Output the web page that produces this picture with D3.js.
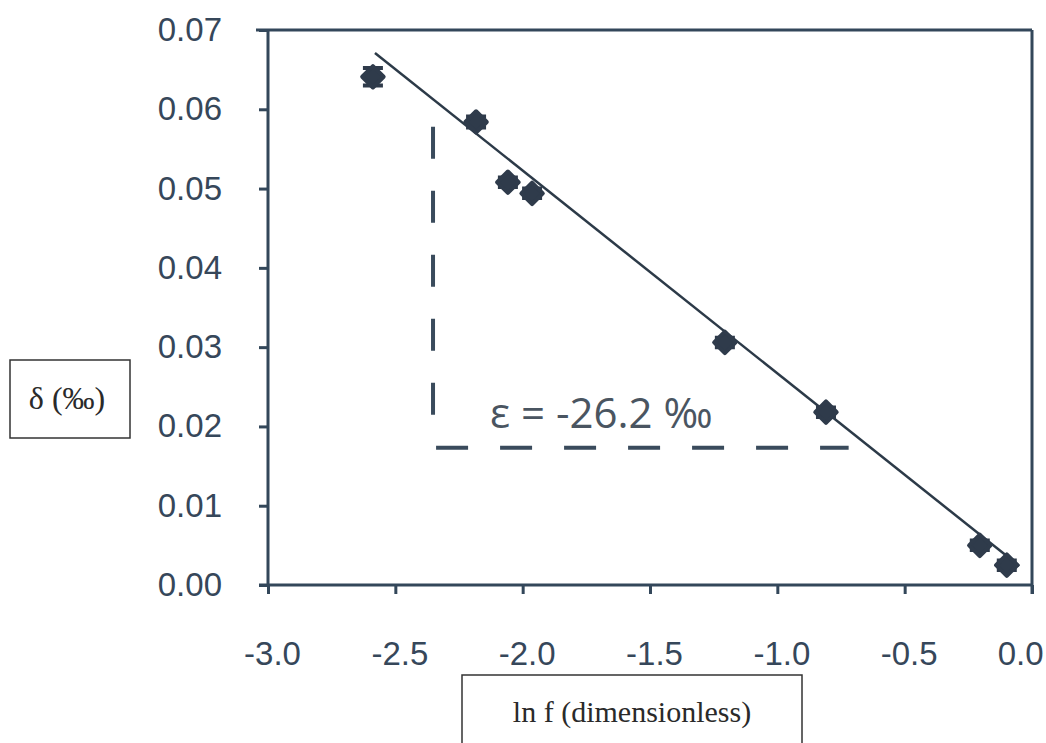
<!DOCTYPE html>
<html>
<head>
<meta charset="utf-8">
<script src="https://cdn.jsdelivr.net/npm/d3@7"></script>
<style>
  html, body { margin: 0; padding: 0; background: #fff; }
  svg { display: block; }
</style>
</head>
<body>
<svg id="chart" width="1046" height="743"></svg>
<script>
// ---- data ----
const lnF = [-2.588, -2.183, -2.058, -1.963, -1.206, -0.809, -0.205, -0.099];
const delta = [0.0641, 0.0584, 0.0508, 0.0494, 0.0306, 0.0218, 0.0050, 0.0025];
const deltaErr = [0.0011, 0.0007, 0.0006, 0.0006, 0.0006, 0.0006, 0.0006, 0.0006];
const fitLineX = [-2.58, -0.05];
const fitLineY = [0.0671, 0.0024];
const slopeVertX = [-2.352, -2.352];
const slopeVertY = [0.0578, 0.0211];
const slopeHorizX = [-2.34, -0.72];
const slopeHorizY = [0.0173, 0.0173];
const xTicks = [-3.0, -2.5, -2.0, -1.5, -1.0, -0.5, 0.0];
const yTicks = [0.00, 0.01, 0.02, 0.03, 0.04, 0.05, 0.06, 0.07];
const annotation = "ε = -26.2 ‰";
const yLabel = "δ (‰)";
const xLabel = "ln f (dimensionless)";

// ---- layout ----
const svg = d3.select("#chart");
const x = d3.scaleLinear().domain([-3, 0]).range([268, 1032]);
const y = d3.scaleLinear().domain([0, 0.07]).range([585, 30]);
const axisColor = "#33475a";
const textColor = "#36475a";
const markColor = "#2f3b4b";
const fmtX = d => d3.format(".1f")(d).replace("−", "-");

// frame: top & right
svg.append("line").attr("x1", 256).attr("x2", x(0)).attr("y1", y(0.07)).attr("y2", y(0.07))
  .attr("stroke", axisColor).attr("stroke-width", 3);
svg.append("line").attr("x1", x(0)).attr("x2", x(0)).attr("y1", y(0.07)).attr("y2", y(0) + 9)
  .attr("stroke", axisColor).attr("stroke-width", 3);

// y axis
const yAxis = d3.axisLeft(y).tickValues(yTicks).tickFormat(d3.format(".2f")).tickSize(9).tickPadding(37);
const gy = svg.append("g").attr("transform", `translate(${x(-3)},0)`).call(yAxis);
gy.select(".domain").attr("stroke", axisColor).attr("stroke-width", 3).attr("d", `M-9,${y(0)}H0V${y(0.07)}`);
gy.selectAll(".tick line").attr("stroke", axisColor).attr("stroke-width", 3);
gy.selectAll(".tick text").attr("fill", textColor).style("font-family", "Liberation Sans, Arial, sans-serif")
  .style("font-size", "33px");

// x axis
const xAxis = d3.axisBottom(x).tickValues(xTicks).tickFormat(fmtX).tickSize(9).tickPadding(48);
const gx = svg.append("g").attr("transform", `translate(0,${y(0)})`).call(xAxis);
gx.select(".domain").attr("stroke", axisColor).attr("stroke-width", 3).attr("d", `M${x(-3)},0H${x(0)}`);
gx.selectAll(".tick line").attr("stroke", axisColor).attr("stroke-width", 3);
gx.selectAll(".tick text").attr("fill", textColor).style("font-family", "Liberation Sans, Arial, sans-serif")
  .style("font-size", "33px").attr("dx", "4");
// keep the last label inside the picture
gx.selectAll(".tick text").filter(d => d === 0).attr("text-anchor", "end").attr("dx", "11");

// dashed slope triangle
const dashStyle = sel => sel.attr("stroke", "#3a4b5c").attr("stroke-width", 4)
  .attr("stroke-dasharray", "32,32").attr("fill", "none");
svg.append("line").attr("x1", x(slopeVertX[0])).attr("x2", x(slopeVertX[1]))
  .attr("y1", y(slopeVertY[0])).attr("y2", y(slopeVertY[1])).call(dashStyle);
svg.append("line").attr("x1", x(slopeHorizX[0])).attr("x2", x(slopeHorizX[1]))
  .attr("y1", y(slopeHorizY[0])).attr("y2", y(slopeHorizY[1])).call(dashStyle);

// fit line
svg.append("line").attr("x1", x(fitLineX[0])).attr("x2", x(fitLineX[1]))
  .attr("y1", y(fitLineY[0])).attr("y2", y(fitLineY[1]))
  .attr("stroke", "#2c3a48").attr("stroke-width", 2.5);

// annotation
svg.append("text").attr("x", 490).attr("y", 428).text(annotation)
  .attr("fill", "#4a5561").style("font-family", "Open Sans, Liberation Sans, sans-serif").style("font-size", "42px");

// markers with error bars
const pts = lnF.map((v, i) => ({ x: v, y: delta[i], e: deltaErr[i] }));
const g = svg.append("g");
g.selectAll(".err").data(pts).join("path").attr("class", "err")
  .attr("d", d => {
    const cx = x(d.x), t = y(d.y + d.e), b = y(d.y - d.e);
    return `M${cx},${t}V${b}M${cx - 10},${t}H${cx + 10}M${cx - 10},${b}H${cx + 10}`;
  })
  .attr("stroke", markColor).attr("stroke-width", 4).attr("fill", "none");
g.selectAll(".pt").data(pts).join("path").attr("class", "pt")
  .attr("transform", d => `translate(${x(d.x)},${y(d.y)}) rotate(45)`)
  .attr("d", d3.symbol().type(d3.symbolSquare).size(230))
  .attr("fill", markColor).attr("stroke", markColor).attr("stroke-width", 4).attr("stroke-linejoin", "round");

// label boxes
svg.append("rect").attr("x", 10).attr("y", 360).attr("width", 120).attr("height", 78)
  .attr("fill", "none").attr("stroke", "#333").attr("stroke-width", 1.5);
svg.append("text").attr("x", 67).attr("y", 409).attr("text-anchor", "middle").text(yLabel)
  .attr("fill", "#2a2a2a").style("font-family", "Liberation Serif, Times New Roman, serif").style("font-size", "32px");
svg.append("rect").attr("x", 462).attr("y", 675).attr("width", 340).attr("height", 90)
  .attr("fill", "none").attr("stroke", "#333").attr("stroke-width", 1.5);
svg.append("text").attr("x", 632).attr("y", 722).attr("text-anchor", "middle").text(xLabel)
  .attr("fill", "#2a2a2a").style("font-family", "Liberation Serif, Times New Roman, serif").style("font-size", "30px");
</script>
</body>
</html>
